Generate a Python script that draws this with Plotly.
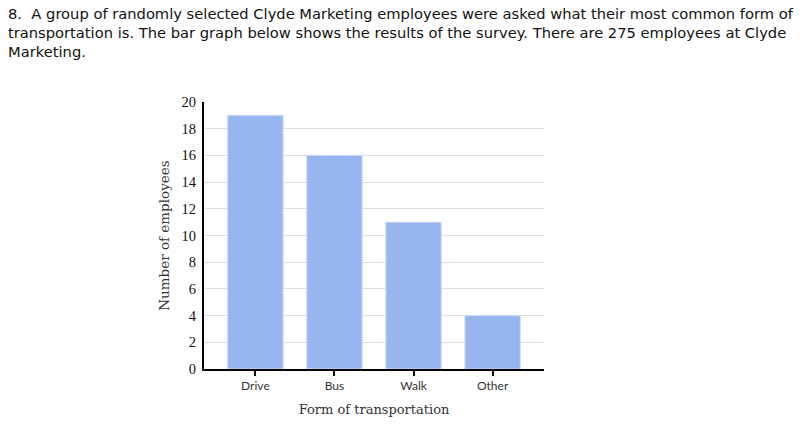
import plotly.graph_objects as go

categories = ["Drive", "Bus", "Walk", "Other"]
values = [19, 16, 11, 4]
y_ticks = [0, 2, 4, 6, 8, 10, 12, 14, 16, 18, 20]

title_lines = [
    "8.  A group of randomly selected Clyde Marketing employees were asked what their most common form of",
    "transportation is. The bar graph below shows the results of the survey. There are 275 employees at Clyde",
    "Marketing.",
]

fig = go.Figure(go.Bar(
    x=categories, y=values,
    marker=dict(color="#97b5ef", line=dict(color="#c9d8f5", width=1)),
    width=0.7,
))

W, H = 812, 425
L, R, T, B = 204, 268, 102, 56

fig.update_layout(
    width=W, height=H,
    margin=dict(l=L, r=R, t=T, b=B),
    paper_bgcolor="white", plot_bgcolor="white",
    showlegend=False,
    xaxis=dict(
        range=[-0.65, 3.65], automargin=False,
        showline=True, linecolor="black", linewidth=2,
        ticks="outside", ticklen=5, tickwidth=2, tickcolor="black",
        tickfont=dict(family="Lato", size=12, color="#333"),
        title=dict(text="Form of transportation", standoff=12,
                   font=dict(family="DejaVu Serif", size=13, color="#333")),
        showgrid=False, fixedrange=True,
    ),
    yaxis=dict(
        range=[0, 20], automargin=False,
        tickvals=y_ticks,
        showline=True, linecolor="black", linewidth=2,
        ticks="outside", ticklen=3, tickcolor="white",
        tickfont=dict(family="Liberation Serif", size=14.5, color="#111"),
        showgrid=True, gridcolor="#dddddd", gridwidth=1,
        zeroline=False,
        title=dict(text="Number of employees", standoff=9,
                   font=dict(family="DejaVu Serif", size=13.5, color="#333")),
        fixedrange=True,
    ),
)

for i, line in enumerate(title_lines):
    fig.add_annotation(
        text=line, xref="paper", yref="paper",
        x=-(L - 6) / (W - L - R), xanchor="left",
        y=1 + (T - 3 - 19 * i) / (H - T - B), yanchor="top",
        showarrow=False,
        font=dict(family="DejaVu Sans", size=14.7, color="#111"),
    )

fig.write_html("out.html", config={"displayModeBar": False},
               post_script="document.body.style.margin='0';")
